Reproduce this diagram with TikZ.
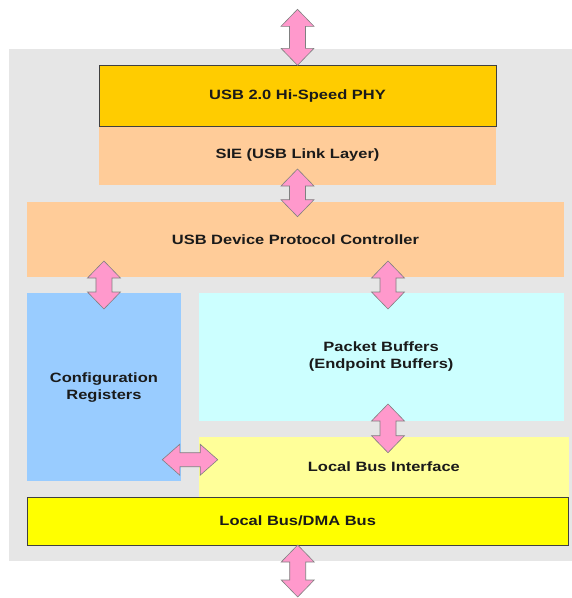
\documentclass[tikz,border=0pt]{standalone}
\usepackage{fontspec}
\usetikzlibrary{calc}
\newfontfamily\lab[FakeStretch=1.22]{Liberation Sans Bold}
\definecolor{bggray}{HTML}{E6E6E6}
\definecolor{phycol}{HTML}{FFCC00}
\definecolor{peach}{HTML}{FFCC99}
\definecolor{cfgblue}{HTML}{99CCFF}
\definecolor{pktcyan}{HTML}{CCFFFF}
\definecolor{lbiyel}{HTML}{FFFF99}
\definecolor{dmayel}{HTML}{FFFF00}
\definecolor{pinkarrow}{HTML}{FF99CC}
\definecolor{arrline}{HTML}{808080}
\definecolor{txt}{HTML}{1A1A1A}
\tikzset{
  blk/.style={rectangle, inner sep=0pt, outer sep=0pt, draw=none, align=center,
    text=txt, font=\lab\fontsize{13.5}{17}\selectfont},
  edged/.style={draw=black!75, line width=0.9pt},
  pinkarr/.style={fill=pinkarrow, draw=arrline, line width=0.6pt, line join=miter}
}
\newcommand\vdarr[2]{%
  \path[pinkarr] let \p1=(#1), \p2=(#2) in
   (\x1,\y1) -- (\x1+16.5pt,\y1-17pt) -- (\x1+8pt,\y1-17pt) -- (\x1+8pt,\y2+17pt)
   -- (\x1+16.5pt,\y2+17pt) -- (\x1,\y2) -- (\x1-16.5pt,\y2+17pt) -- (\x1-8pt,\y2+17pt)
   -- (\x1-8pt,\y1-17pt) -- (\x1-16.5pt,\y1-17pt) -- cycle;}
\newcommand\hdarr[2]{%
  \path[pinkarr] let \p1=(#1), \p2=(#2) in
   (\x1,\y1) -- (\x1+17.5pt,\y1+15.5pt) -- (\x1+17.5pt,\y1+7pt) -- (\x2-17.5pt,\y1+7pt)
   -- (\x2-17.5pt,\y1+15.5pt) -- (\x2,\y1) -- (\x2-17.5pt,\y1-15.5pt) -- (\x2-17.5pt,\y1-7pt)
   -- (\x1+17.5pt,\y1-7pt) -- (\x1+17.5pt,\y1-15.5pt) -- cycle;}
\begin{document}
\begin{tikzpicture}[x=1pt,y=-1pt]
\useasboundingbox (0,0) rectangle (572,598);
% background chip area
\node[blk, fill=bggray, minimum width=563, minimum height=511.4] (chip) at (290.5,305) {};
% blocks
\node[blk, fill=peach, minimum width=397, minimum height=59] (sie) at (297.5,155.5) {SIE (USB Link Layer)};
\node[blk, fill=phycol, edged, minimum width=397, minimum height=60.7] (phy) at (297.5,95.65) {USB 2.0 Hi-Speed PHY};
\node[blk, fill=peach, minimum width=536.1, minimum height=75.6] (pdc) at (295.45,239.5) {USB Device Protocol Controller};
\node[blk, fill=cfgblue, minimum width=153.1, minimum height=187.7] (cfg) at (103.95,387.15) {Configuration\\Registers};
\node[blk, fill=pktcyan, minimum width=364.7, minimum height=127.4] (pkt) at (381.15,357) {Packet Buffers\\(Endpoint Buffers)};
\node[blk, fill=lbiyel, minimum width=370.2, minimum height=60] (lbi) at (383.9,466.7) {Local Bus Interface};
\node[blk, fill=dmayel, edged, minimum width=540.6, minimum height=48] (dma) at (297.7,521) {Local Bus/DMA Bus};
% arrow end points
\coordinate (usbext) at ($(phy.north)+(0,-56)$);
\coordinate (sieA) at ($(sie.south)+(0,-16)$);
\coordinate (pdcA) at (sieA |- 0,216.7);
\coordinate (pdcL) at (cfg.center |- 0,261);
\coordinate (cfgT) at (cfg.center |- 0,309);
\coordinate (pdcR) at (388,261);
\coordinate (pktT) at (388,309);
\coordinate (pktB) at (388,404);
\coordinate (lbiT) at (388,452.7);
\coordinate (cfgR) at (162.3,459.7);
\coordinate (lbiL) at (217.7,459.7);
\coordinate (busext) at ($(dma.south)+(0,52)$);
% connectors
\vdarr{usbext}{phy.north}
\vdarr{sieA}{pdcA}
\vdarr{pdcL}{cfgT}
\vdarr{pdcR}{pktT}
\vdarr{pktB}{lbiT}
\hdarr{cfgR}{lbiL}
\vdarr{dma.south}{busext}
\end{tikzpicture}
\end{document}
